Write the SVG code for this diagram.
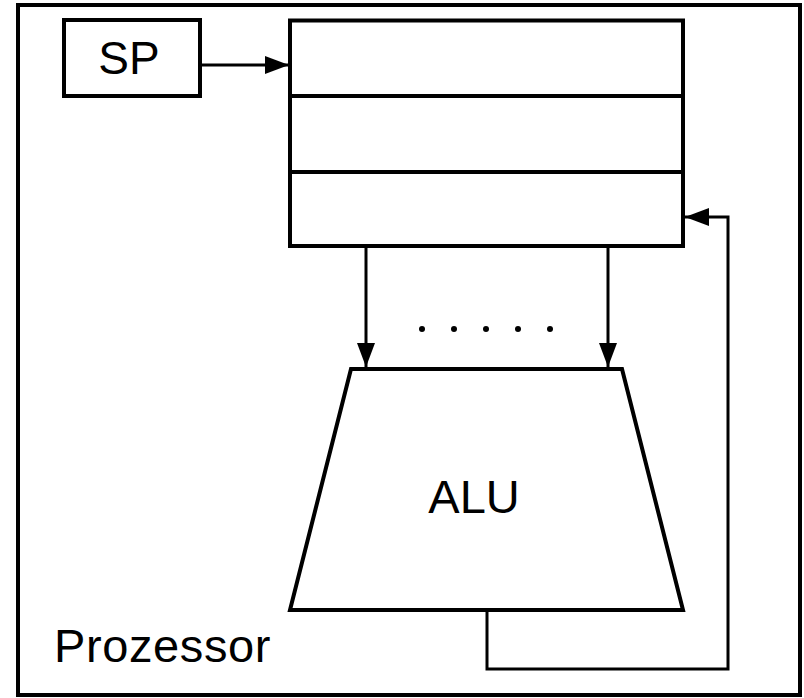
<svg xmlns="http://www.w3.org/2000/svg" width="804" height="698" viewBox="0 0 804 698">
<style>
.box{fill:#fff;stroke:#000;stroke-width:4}
.ln{fill:none;stroke:#000;stroke-width:3}
.t{font-family:"Liberation Sans",Arial,sans-serif;font-size:46px;fill:#000}
</style>
<defs>
<marker id="ah" markerUnits="userSpaceOnUse" markerWidth="26" markerHeight="20" refX="24" refY="9" orient="auto">
<path d="M0,0 L24,9 L0,18 Z" fill="#000"/>
</marker>
</defs>
<rect width="804" height="698" fill="#fff"/>
<g id="prozessor">
<rect class="box" x="18" y="5" width="782" height="690"/>
<text class="t" x="54" y="662" style="font-size:47px;letter-spacing:0.6px">Prozessor</text>
</g>
<g id="sp">
<rect class="box" x="64" y="20" width="136" height="76"/>
<text class="t" x="129" y="74" text-anchor="middle">SP</text>
</g>
<g id="stack">
<rect class="box" x="290" y="20.5" width="393" height="225.5"/>
<line class="box" x1="290" y1="96" x2="683" y2="96"/>
<line class="box" x1="290" y1="172" x2="683" y2="172"/>
</g>
<g id="alu">
<polygon class="box" points="351,369 622,369 683,610 290,610"/>
<text class="t" x="474" y="513" text-anchor="middle" style="font-size:47px">ALU</text>
</g>
<g id="dots" fill="#000">
<circle cx="422" cy="329" r="3"/>
<circle cx="454" cy="329" r="3"/>
<circle cx="486" cy="329" r="3"/>
<circle cx="518" cy="329" r="3"/>
<circle cx="550" cy="329" r="3"/>
</g>
<g id="connectors">
<line class="ln" x1="202" y1="65" x2="289" y2="65" marker-end="url(#ah)"/>
<line class="ln" x1="366" y1="248" x2="366" y2="367" marker-end="url(#ah)"/>
<line class="ln" x1="608" y1="248" x2="608" y2="367" marker-end="url(#ah)"/>
<polyline class="ln" points="487,612 487,669 728,669 728,217 685,217" marker-end="url(#ah)"/>
</g>
</svg>
